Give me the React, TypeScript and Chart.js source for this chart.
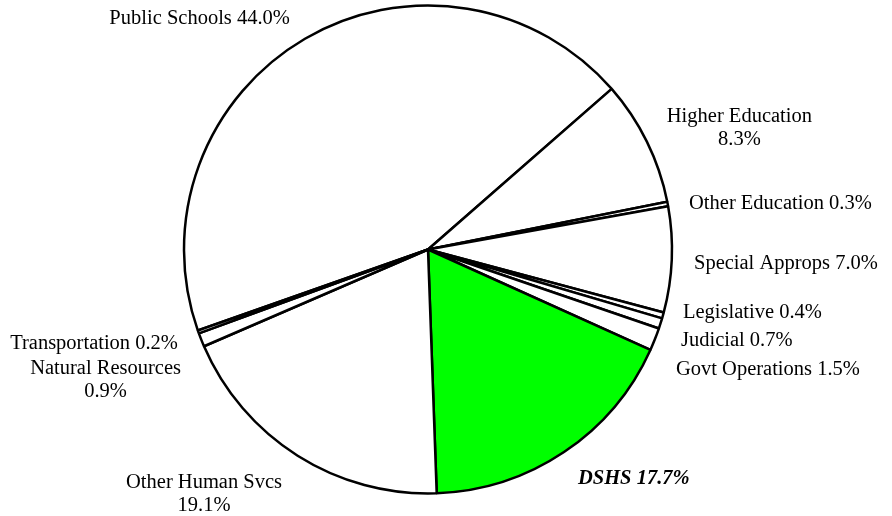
import React, { useEffect, useRef } from 'react';
import { Chart, registerables } from 'chart.js';

Chart.register(...registerables);

const categories = [
  'Public Schools',
  'Higher Education',
  'Other Education',
  'Special Approps',
  'Legislative',
  'Judicial',
  'Govt Operations',
  'DSHS',
  'Other Human Svcs',
  'Natural Resources',
  'Transportation',
];
const shares = [44.0, 8.3, 0.3, 7.0, 0.4, 0.7, 1.5, 17.7, 19.1, 0.9, 0.2];
const sliceColors = [
  '#FFFFFF', '#FFFFFF', '#FFFFFF', '#FFFFFF', '#FFFFFF', '#FFFFFF',
  '#FFFFFF', '#00FF00', '#FFFFFF', '#FFFFFF', '#FFFFFF',
];
const wrapLabel = [false, true, false, false, false, false, false, false, true, true, false];
const emphasized = [false, false, false, false, false, false, false, true, false, false, false];
// small label offsets [dx, dy] from the slice's mid-angle anchor (avoid overlaps like the original)
const labelNudge: [number, number][] = [
  [-5, -4.5], [2, -6.3], [1.7, 1.8], [2.2, 1.6], [0.8, -9.8], [1.4, 9.5],
  [2.5, 21.3], [2.8, 8.3], [-4.9, 19.6], [-1.8, 31.2], [-1.6, 3.2],
];

const FONT_FAMILY = '"Liberation Serif", "Times New Roman", serif';
const FONT_SIZE = 20.5;
const LINE_H = 23;

const labelPlugin = {
  id: 'outsideLabels',
  afterDraw(chart: any) {
    const ctx = chart.ctx;
    const meta = chart.getDatasetMeta(0);
    ctx.save();
    ctx.fillStyle = '#000000';
    ctx.textBaseline = 'alphabetic';
    ctx.textAlign = 'center';
    meta.data.forEach((arc: any, i: number) => {
      const p = arc.getProps(['x', 'y', 'startAngle', 'endAngle', 'outerRadius'], true);
      const mid = (p.startAngle + p.endAngle) / 2;
      const r = p.outerRadius + 20;
      const ax = p.x + r * Math.cos(mid);
      const ay = p.y + r * Math.sin(mid);
      const val = shares[i].toFixed(1) + '%';
      const lines = wrapLabel[i] ? [categories[i], val] : [categories[i] + ' ' + val];
      ctx.font = (emphasized[i] ? 'italic bold ' : '') + FONT_SIZE + 'px ' + FONT_FAMILY;
      const w = Math.max(...lines.map((l) => ctx.measureText(l).width));
      const [dx, dy] = labelNudge[i];
      const rightSide = Math.cos(mid) >= 0;
      const cx = rightSide ? ax + dx + w / 2 : ax + dx - w / 2;
      const cy = ay + dy;
      const firstBase = cy - ((lines.length - 1) * LINE_H) / 2 + 7;
      lines.forEach((l, k) => {
        ctx.fillText(l, cx, firstBase + k * LINE_H);
      });
    });
    ctx.restore();
  },
};

export default function App() {
  const canvasRef = useRef<HTMLCanvasElement | null>(null);

  useEffect(() => {
    const canvas = canvasRef.current;
    if (!canvas) return;
    const chart = new Chart(canvas, {
      type: 'pie',
      data: {
        labels: categories,
        datasets: [
          {
            data: shares,
            backgroundColor: sliceColors,
            borderColor: '#000000',
            borderWidth: 2.5,
            hoverOffset: 0,
            hoverBorderWidth: 2.5,
          },
        ],
      },
      options: {
        responsive: false,
        animation: false,
        events: [],
        rotation: -109.4,
        layout: { padding: { top: 4.25, bottom: 21.25, left: 0, right: 36 } },
        plugins: {
          legend: { display: false },
          tooltip: { enabled: false },
        },
      },
      plugins: [labelPlugin],
    });
    return () => chart.destroy();
  }, []);

  return (
    <div style={{ position: 'fixed', left: 0, top: 0, width: 892, height: 516, background: '#ffffff' }}>
      <canvas ref={canvasRef} width={892} height={516} style={{ width: 892, height: 516, display: 'block' }} />
    </div>
  );
}
